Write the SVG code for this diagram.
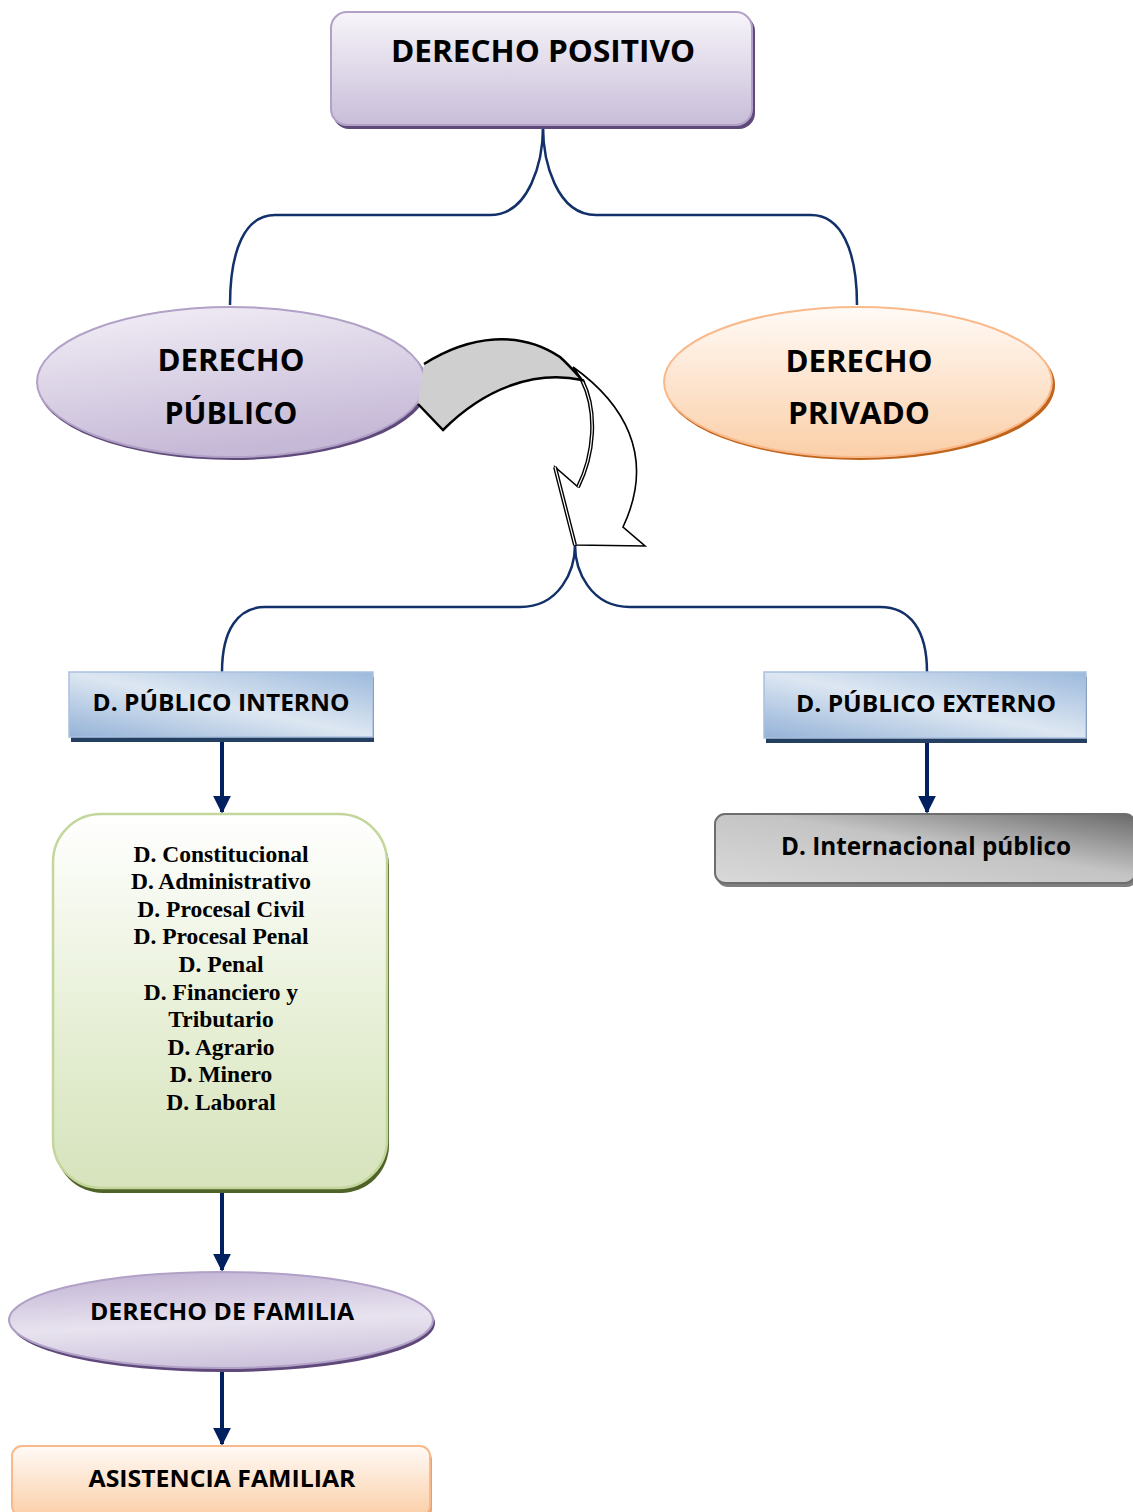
<svg xmlns="http://www.w3.org/2000/svg" width="1133" height="1512" viewBox="0 0 1133 1512">
<defs>
<linearGradient id="gPurple" x1="0" y1="0" x2="0" y2="1"><stop offset="0" stop-color="#f7f5fa"/><stop offset="1" stop-color="#c9bdd9"/></linearGradient>
<linearGradient id="gPurpleE" x1="0" y1="0" x2="0.3" y2="1"><stop offset="0" stop-color="#f3f0f7"/><stop offset="1" stop-color="#c6b9d7"/></linearGradient>
<linearGradient id="gFam" x1="0.3" y1="0" x2="0.5" y2="1"><stop offset="0" stop-color="#c3b5d5"/><stop offset="0.55" stop-color="#e8e3ef"/><stop offset="1" stop-color="#cdc2dc"/></linearGradient>
<linearGradient id="gPeach" x1="0" y1="0" x2="0" y2="1"><stop offset="0" stop-color="#fffaf6"/><stop offset="1" stop-color="#fbcfa8"/></linearGradient>
<linearGradient id="gBlue" x1="0" y1="1" x2="1" y2="0"><stop offset="0" stop-color="#94b2d7"/><stop offset="0.5" stop-color="#dde7f2"/><stop offset="1" stop-color="#9cb9dc"/></linearGradient>
<linearGradient id="gGray" x1="0" y1="1" x2="1" y2="0"><stop offset="0" stop-color="#d9d9d9"/><stop offset="0.55" stop-color="#c4c4c4"/><stop offset="1" stop-color="#6a6a6a"/></linearGradient>
<linearGradient id="gGreen" x1="0" y1="0" x2="0" y2="1"><stop offset="0" stop-color="#ffffff"/><stop offset="0.6" stop-color="#e5eed3"/><stop offset="1" stop-color="#d6e3bc"/></linearGradient>
<marker id="ah" viewBox="0 0 10 10" refX="9" refY="5" markerWidth="4.5" markerHeight="4.5" markerUnits="strokeWidth" orient="auto"><path d="M0,0 L10,5 L0,10 Z" fill="#002060"/></marker>
</defs>
<style>
.t{font-family:"Open Sans","Liberation Sans",sans-serif;font-weight:700;fill:#000;text-anchor:middle}
.s{font-family:"Liberation Serif","Times New Roman",serif;font-weight:700;font-size:23.5px;fill:#000;text-anchor:middle}
.con{fill:none;stroke:#12306a;stroke-width:2.5}
.arr{fill:none;stroke:#002060;stroke-width:4;marker-end:url(#ah)}
</style>

<g id="connectors">
<path class="con" d="M543,127 C543,160 530,215 490,215 L275,215 C245,215 230,250 230,305"/>
<path class="con" d="M543,127 C543,160 556,215 596,215 L811,215 C841,215 857,250 857,305"/>
<path class="con" d="M575,545 C575,570 560,607 520,607 L265,607 C238,607 222,630 222,672"/>
<path class="con" d="M575,545 C575,570 590,607 630,607 L880,607 C910,607 927,630 927,672"/>
<path class="arr" d="M222,740 L222,812"/>
<path class="arr" d="M927,741 L927,812"/>
<path class="arr" d="M222,1193 L222,1270"/>
<path class="arr" d="M222,1370 L222,1444"/>
</g>

<g id="derecho-positivo">
<rect x="333" y="15" width="422" height="114" rx="16" fill="#5f497a"/>
<rect x="331" y="12" width="421" height="113" rx="16" fill="url(#gPurple)" stroke="#b2a1c7" stroke-width="2"/>
<text class="t" x="543" y="62" font-size="31" textLength="304" lengthAdjust="spacingAndGlyphs">DERECHO POSITIVO</text>
</g>

<g id="derecho-publico">
<ellipse cx="233" cy="385" rx="195" ry="75" fill="#5f497a"/>
<ellipse cx="231" cy="382" rx="194" ry="75" fill="url(#gPurpleE)" stroke="#b2a1c7" stroke-width="2"/>
<text class="t" x="231" y="371" font-size="31" textLength="147" lengthAdjust="spacingAndGlyphs">DERECHO</text>
<text class="t" x="231" y="424" font-size="31" textLength="133" lengthAdjust="spacingAndGlyphs">PÚBLICO</text>
</g>

<g id="derecho-privado">
<ellipse cx="860" cy="385" rx="195" ry="75" fill="#c0631b"/>
<ellipse cx="858" cy="382" rx="194" ry="75" fill="url(#gPeach)" stroke="#f9b98a" stroke-width="2"/>
<text class="t" x="859" y="372" font-size="31" textLength="147" lengthAdjust="spacingAndGlyphs">DERECHO</text>
<text class="t" x="859" y="424" font-size="31" textLength="142" lengthAdjust="spacingAndGlyphs">PRIVADO</text>
</g>

<g id="curved-arrow">
<path d="M573,367 C622,402 657,455 623,527 L645,546 L575,545 L555,467 L578,487 C594,455 598,412 582,380 Z" fill="#ffffff" stroke="#000" stroke-width="1.6" stroke-linejoin="miter"/>
<path d="M582,380 C598,412 594,455 578,487 M555,467 L575,545" fill="none" stroke="#000" stroke-width="4"/>
<path d="M582,380 C598,412 594,455 578,487 M555,467 L575,545" fill="none" stroke="#fff" stroke-width="1.2"/>
<path d="M418,404 L443,430 C485,388 535,370 582,380 C575,372 568,364 560,357 C520,330 470,335 424,364" fill="#cfcfcf" stroke="#000" stroke-width="2.5" stroke-linejoin="miter"/>
</g>

<g id="publico-interno">
<rect x="71" y="677" width="303" height="65" fill="#243f60"/>
<rect x="69" y="672" width="304" height="65" fill="url(#gBlue)" stroke="#a9c0de" stroke-width="1.5"/>
<text class="t" x="221" y="711" font-size="24" textLength="257" lengthAdjust="spacingAndGlyphs">D. PÚBLICO INTERNO</text>
</g>

<g id="publico-externo">
<rect x="766" y="677" width="321" height="66" fill="#243f60"/>
<rect x="764" y="672" width="322" height="66" fill="url(#gBlue)" stroke="#a9c0de" stroke-width="1.5"/>
<text class="t" x="926" y="712" font-size="24" textLength="260" lengthAdjust="spacingAndGlyphs">D. PÚBLICO EXTERNO</text>
</g>

<g id="ramas">
<rect x="55" y="818" width="334" height="375" rx="48" fill="#4f6228"/>
<rect x="53" y="814" width="334" height="374" rx="48" fill="url(#gGreen)" stroke="#c3d69b" stroke-width="2.5"/>
<text class="s" x="221" y="862">D. Constitucional</text>
<text class="s" x="221" y="889">D. Administrativo</text>
<text class="s" x="221" y="917">D. Procesal Civil</text>
<text class="s" x="221" y="944">D. Procesal Penal</text>
<text class="s" x="221" y="972">D. Penal</text>
<text class="s" x="221" y="1000">D. Financiero y</text>
<text class="s" x="221" y="1027">Tributario</text>
<text class="s" x="221" y="1055">D. Agrario</text>
<text class="s" x="221" y="1082">D. Minero</text>
<text class="s" x="221" y="1110">D. Laboral</text>
</g>

<g id="internacional-publico">
<rect x="717" y="818" width="420" height="69" rx="10" fill="#7f7f7f"/>
<rect x="715" y="814" width="420" height="69" rx="10" fill="url(#gGray)" stroke="#6e6e6e" stroke-width="2"/>
<text class="t" x="926" y="855" font-size="25" textLength="290" lengthAdjust="spacingAndGlyphs">D. Internacional público</text>
</g>

<g id="derecho-familia">
<ellipse cx="223" cy="1323" rx="212" ry="49" fill="#5f497a"/>
<ellipse cx="221" cy="1320" rx="212" ry="48" fill="url(#gFam)" stroke="#b2a1c7" stroke-width="2"/>
<text class="t" x="222" y="1320" font-size="23" textLength="264" lengthAdjust="spacingAndGlyphs">DERECHO DE FAMILIA</text>
</g>

<g id="asistencia-familiar">
<rect x="14" y="1449" width="418" height="70" rx="10" fill="#e2a26c"/>
<rect x="12" y="1446" width="418" height="70" rx="10" fill="url(#gPeach)" stroke="#f9b98a" stroke-width="2"/>
<text class="t" x="222" y="1487" font-size="23" textLength="267" lengthAdjust="spacingAndGlyphs">ASISTENCIA FAMILIAR</text>
</g>
</svg>
